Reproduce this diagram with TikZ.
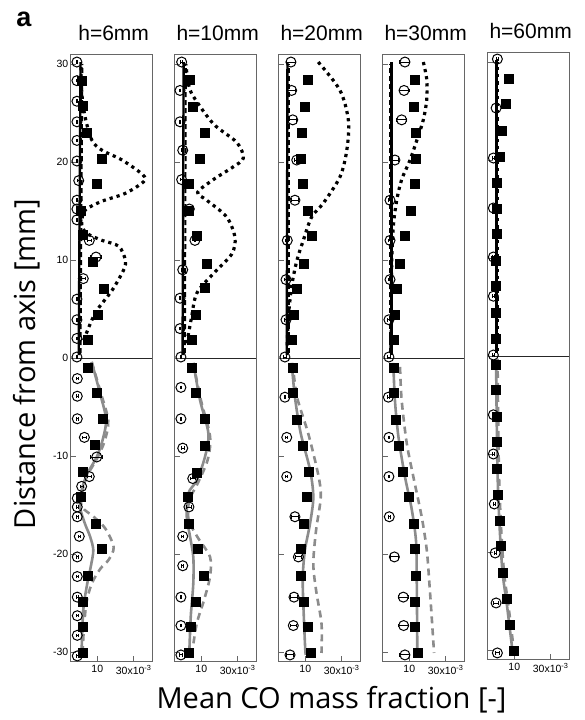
\documentclass[tikz,border=0pt]{standalone}
\usepackage{fontspec}
\setmainfont{Liberation Sans}
\newfontfamily\axisfont{Open Sans}
\usetikzlibrary{arrows.meta}
\usetikzlibrary{positioning}

\tikzset{
	panelbox/.style={draw=black!60, line width=0.8pt},
	zeroline/.style={draw=black!85, line width=0.6pt},
	simsolid/.style={black, line width=2.4pt},
	simdash/.style={black, line width=2pt, dash pattern=on 5pt off 3pt},
	simdot/.style={black, line width=3.2pt, dash pattern=on 3.2pt off 4pt},
	rssolid/.style={black!45, line width=2.6pt},
	rsdash/.style={black!45, line width=2.6pt, dash pattern=on 7pt off 5pt},
	expbox/.style={fill=black},
	expcirc/.style={draw=black, line width=1pt},
	errbar/.style={black, line width=0.9pt, arrows={Bar[width=3.5pt]-Bar[width=3.5pt]}},
	ticklab/.style={font=\fontsize{10.5}{12}\selectfont, inner sep=1.5pt},
	title/.style={font=\fontsize{21}{24}\selectfont, inner sep=0pt},
	axislabel/.style={font=\axisfont\fontsize{29}{32}\selectfont, inner sep=0pt}
}

\begin{document}
\begin{tikzpicture}[x=1pt, y=1pt]
	\newcommand\sx{1.82pt}
	\newcommand\sy{9.8pt}
	\useasboundingbox (0,0) rectangle (585,720);

	% frames, ticks and titles
	\foreach \i/\xo/\yo/\h in {1/79.1/362/6, 2/183.1/362/10, 3/287.1/362/20, 4/391.1/362/30, 5/496.1/364/60}{
		\begin{scope}[shift={(\xo pt,\yo pt)}, x=\sx, y=\sy]
			\draw[panelbox] (-5,-31) rectangle (40,31);
			\draw[zeroline] (-5,0) -- (40,0);
			\foreach \t in {-30,-20,...,30} \draw[panelbox] (-5,\t) -- ++(6pt,0);
			\foreach \t in {10,30} \draw[panelbox] (\t,-31) -- ++(0,6pt);
			\node[ticklab, anchor=north, yshift=-2pt] (xten\i) at (10,-31) {10};
			\node[ticklab, anchor=north, yshift=-2pt] (xthirty\i) at (30,-31) {30x10\textsuperscript{-3}};
			\node[title, anchor=base, yshift=14pt] (title\i) at (19,31) {h=\h mm};
		\end{scope}
	}
	\begin{scope}[shift={(79.1pt,362pt)}, x=\sx, y=\sy]
		\foreach \t in {-30,-20,...,30} \node[ticklab, anchor=east] (ylab\t) at (-5,\t) {\t};
	\end{scope}

	\node[font=\bfseries\fontsize{27}{30}\selectfont, inner sep=0pt] (panela) at (24,701) {a};
	\node[axislabel, rotate=90, anchor=base] (ylabel) at (35,356) {Distance from axis [mm]};
	\node[axislabel, anchor=base] (xlabel) at (331.5,11.7) {Mean CO mass fraction [-]};

	% h=6mm
	\begin{scope}[shift={(79.1pt,362pt)}, x=\sx, y=\sy]
		\draw[simdot] plot[smooth] coordinates {(2.5,1.8) (8.9,4.6) (18.1,6.9) (24.5,9.0) (25.4,10.0) (21.8,11.4) (12.6,12.0) (5.3,12.6) (2,13.2) (1.5,14) (3.4,15.1) (12.6,16.0) (25.4,16.8) (35.5,18.0) (35,18.7) (23.6,20.2) (12.6,21.2) (7.1,22.2) (3.4,24.5) (1.5,27) (1.0,30)};
		\draw[simdash] (0.8,0.5) -- (1.8,30);
		\draw[simsolid] (-0.2,0.3) -- (0.8,30.2);
		\draw[rsdash] plot[smooth] coordinates {(6.9,-0.4) (12,-3.6) (16,-6.4) (14,-8.5) (9.7,-10.3) (4.5,-12) (1.5,-13.8) (1.6,-15.2) (8,-16.2) (14.4,-17.4) (19.0,-19.3) (16.2,-20.6) (11.7,-21.5) (7,-23) (4,-25) (2.5,-28) (2,-30)};
		\draw[rssolid] plot[smooth] coordinates {(6.9,-0.4) (11.5,-3.6) (14.8,-6.2) (13.3,-8.1) (9.7,-10.1) (4.5,-11.8) (1.4,-13.5) (0.5,-15.2) (3.2,-16.9) (6.0,-18.2) (7.8,-19.6) (6.4,-21.3) (4.5,-23.0) (2.3,-25.7) (1.4,-29.8)};
		\foreach \x/\y in {1.4/28.3, 2.3/25.7, 4.5/23.0, 12.4/20.3, 10.0/17.8, 1.0/15.0, 2.0/12.6, 7.8/9.8, 13.7/7.0, 10.2/4.4, 5.1/1.8,
			5.1/-1.0, 9.7/-3.6, 13.3/-6.2, 8.7/-8.9, 2.3/-11.6, 0.9/-14.2, 9.3/-16.9, 12.4/-19.5, 5.1/-22.2, 2.3/-24.9, 2.0/-27.5, 2.0/-30.1}
			\fill[expbox] (\x,\y) +(-5pt,-5pt) rectangle +(5pt,5pt);
		\foreach \x/\y/\e in {-1.2/30.2/0.7, -1.2/28.3/0.7, -1.2/26.2/0.7, -1.2/24.1/0.7, -1.2/22.2/0.7, -1.2/20.1/0.7, -0.2/18.1/0.7, -1.2/16.1/0.7, -1.2/15.2/0.7, -1.2/14.1/0.7, 5.6/12.0/1.5, 9.3/10.3/3.2, 2.3/8.1/1.2, -1.2/6.0/0.7, -1.2/3.9/0.7, -1.2/2.0/0.7, -1.2/0.1/0.7,
			-1.0/-2.1/0.7, -1.0/-3.9/0.7, -1.0/-6.2/0.7, 2.9/-8.1/1.5, 9.7/-10.1/3.5, 5.6/-12.1/1.5, 1.4/-13.1/1.0, -1.0/-14.3/0.7, -1.0/-15.2/0.7, -1.0/-16.2/0.7, 0.1/-18.2/0.7, -1.0/-20.3/0.7, -1.0/-22.3/0.7, -1.0/-24.4/0.7, -1.0/-26.3/0.7, -1.0/-28.3/0.7, -1.0/-30.4/0.7}
			{\draw[expcirc] (\x,\y) circle[radius=5pt]; \draw[errbar] (\x-\e,\y) -- (\x+\e,\y);}
	\end{scope}

	% h=10mm
	\begin{scope}[shift={(183.1pt,362pt)}, x=\sx, y=\sy]
		\draw[simdot] plot[smooth] coordinates {(2,1.5) (4.5,4) (7.5,6.6) (16.6,8.6) (26.7,10.6) (28.5,12.3) (23.9,14.4) (13,16.1) (8,16.9) (16.6,18.2) (27.5,19.5) (33.1,20.4) (29.5,22.0) (16.6,23.9) (5.6,26.7) (2.9,28.0) (1.5,30)};
		\draw[simdash] (1,0.5) -- (1.5,30);
		\draw[simsolid] (-0.3,0.3) -- (0.3,30.2);
		\draw[rsdash] plot[smooth] coordinates {(5.6,-0.5) (9.8,-4.3) (14.8,-8.0) (13.5,-10.4) (8,-12.8) (3.4,-14.5) (3,-16.5) (8,-18.3) (14.8,-20.3) (14.8,-22.3) (11.5,-24.7) (7.5,-27.1) (5,-30)};
		\draw[rssolid] plot[smooth] coordinates {(5.6,-0.5) (9.3,-4.3) (13.9,-7.7) (12.0,-10.1) (7.5,-12.5) (2.9,-13.8) (2.0,-16.2) (3.8,-18.2) (5.6,-20.3) (5.6,-23.0) (4.2,-26.4) (3.4,-30.1)};
		\foreach \x/\y in {3.8/28.4, 5.6/25.6, 12.0/23.0, 9.3/20.3, 3.4/17.8, 3.4/15.0, 7.9/12.4, 13.0/9.6, 12.0/7.1, 7.1/4.4, 4.7/1.8,
			4.7/-1.0, 7.1/-3.6, 12.0/-6.2, 12.3/-9.0, 7.5/-11.7, 2.9/-14.2, 3.2/-16.9, 8.4/-19.5, 11.5/-22.2, 7.1/-24.9, 4.2/-27.4, 3.4/-30.1}
			\fill[expbox] (\x,\y) +(-5pt,-5pt) rectangle +(5pt,5pt);
		\foreach \x/\y/\e in {-0.8/30.2/0.7, -1.7/27.3/0.7, -1.7/24.1/0.7, -0.2/21.2/0.7, -0.8/18.2/0.7, 3.4/15.2/0.7, 6.5/12.0/0.7, -0.2/9.0/0.7, -1.7/6.1/0.7, -1.7/3.0/0.7, -1.2/0.1/0.7,
			-1.2/-3.0/0.7, -1.2/-6.2/0.7, -0.2/-9.2/1.0, 5.3/-12.3/1.5, 3.2/-15.2/1.5, -0.2/-18.2/0.7, -0.2/-21.2/0.7, -1.2/-24.4/0.7, -1.2/-27.3/0.7, -1.2/-30.3/1.0}
			{\draw[expcirc] (\x,\y) circle[radius=5pt]; \draw[errbar] (\x-\e,\y) -- (\x+\e,\y);}
	\end{scope}

	% h=20mm
	\begin{scope}[shift={(287.1pt,362pt)}, x=\sx, y=\sy]
		\draw[simdot] plot[smooth] coordinates {(17.1,30.2) (29.1,27.3) (33.7,24.2) (32.8,21.2) (29.1,18.5) (19.9,15.8) (13.5,14.4) (8.9,12.0) (5.3,9.9) (2.5,7.3) (0.7,4.2) (0,1.2)};
		\draw[simdash] (0.8,0.5) -- (0.8,30);
		\draw[simsolid] (-0.2,0.3) -- (0.2,30.2);
		\draw[rsdash] plot[smooth] coordinates {(3,-0.5) (5.5,-4) (11.6,-7.7) (17.1,-11.9) (18.5,-14.2) (15.9,-17.6) (14.4,-21.0) (16.0,-23.8) (18.9,-27.1) (18.9,-30.1)};
		\draw[rssolid] plot[smooth] coordinates {(2.5,-0.5) (4.3,-4.0) (7.5,-7.7) (12.6,-11.4) (14.4,-14.2) (12.6,-16.9) (9.8,-19.6) (8.6,-22.3) (8.9,-25.0) (9.8,-29.1) (10.2,-30.3)};
		\foreach \x/\y in {11.6/28.4, 9.8/25.6, 8.0/23.0, 7.5/20.3, 8.9/17.8, 11.6/15.0, 13.5/12.4, 9.5/9.6, 5.6/7.0, 3.8/4.4, 2.5/1.8,
			3.1/-1.0, 3.4/-3.6, 5.6/-6.3, 8.9/-9.0, 12.2/-11.6, 11.1/-14.2, 9.3/-16.9, 7.6/-19.5, 7.6/-22.2, 9.3/-24.9, 11.6/-27.5, 13.0/-30.1}
			\fill[expbox] (\x,\y) +(-5pt,-5pt) rectangle +(5pt,5pt);
		\foreach \x/\y/\e in {2.1/30.2/2.5, 2.5/27.3/2.5, 3.1/24.3/2.5, 5.3/20.2/1.5, 4.3/16.1/2.0, 0.1/12.0/1.0, -0.6/8.0/1.0, -0.6/3.9/1.0, -1.2/0.1/1.0,
			-1.2/-4.0/0.7, -0.2/-8.1/0.7, -0.2/-12.1/0.7, 4.3/-16.2/2.0, 6.2/-20.3/2.0, 3.8/-24.4/2.0, 3.4/-27.3/2.0, 1.6/-30.3/2.0}
			{\draw[expcirc] (\x,\y) circle[radius=5pt]; \draw[errbar] (\x-\e,\y) -- (\x+\e,\y);}
	\end{scope}

	% h=30mm
	\begin{scope}[shift={(391.1pt,362pt)}, x=\sx, y=\sy]
		\draw[simdot] plot[smooth] coordinates {(17.7,30.2) (19.6,28.4) (19.6,26.4) (17.7,24.3) (14.1,22.2) (10.4,20.2) (5.8,18.2) (3.1,16.1) (1.2,13.4) (0.3,9.3) (0,2.5) (0,0.5)};
		\draw[simdash] (-0.6,0.5) -- (-0.6,30);
		\draw[simsolid] (0.3,0.3) -- (0.3,30.2);
		\draw[rsdash] plot[smooth] coordinates {(4.9,-0.9) (5.8,-4.3) (8.6,-8.7) (12.2,-12.1) (16.8,-16.2) (19.6,-19.6) (21.0,-22.9) (22.3,-26.4) (23.6,-30.1)};
		\draw[rssolid] plot[smooth] coordinates {(1.2,-0.5) (2.1,-4.3) (4.0,-8.0) (7.6,-12.1) (11.3,-15.4) (13.7,-18.7) (14.1,-22.7) (14.4,-30.1)};
		\foreach \x/\y in {13.1/28.4, 12.8/25.6, 13.7/23.0, 13.7/20.3, 13.1/17.8, 10.8/15.0, 7.6/12.4, 4.9/9.6, 3.1/7.0, 2.1/4.4, 1.6/1.8,
			1.6/-1.0, 1.6/-3.6, 2.5/-6.3, 4.5/-9.0, 6.7/-11.6, 10.0/-14.2, 12.6/-16.9, 13.3/-19.5, 13.7/-22.2, 13.3/-24.9, 13.3/-27.5, 14.9/-30.1}
			\fill[expbox] (\x,\y) +(-5pt,-5pt) rectangle +(5pt,5pt);
		\foreach \x/\y/\e in {7.6/30.2/3.0, 7.1/27.3/3.0, 5.8/24.3/3.0, 2.1/20.2/2.0, -0.6/16.1/1.0, -0.6/12.0/1.0, -0.6/8.0/1.0, -1.2/3.9/1.0, -1.2/0.1/1.0,
			-1.5/-4.0/0.7, -1.2/-8.1/0.7, -1.2/-12.1/0.7, -1.0/-16.2/0.7, 1.8/-20.3/2.5, 6.7/-24.4/3.0, 6.9/-27.3/3.0, 7.6/-30.3/3.0}
			{\draw[expcirc] (\x,\y) circle[radius=5pt]; \draw[errbar] (\x-\e,\y) -- (\x+\e,\y);}
	\end{scope}

	% h=60mm
	\begin{scope}[shift={(496.1pt,364pt)}, x=\sx, y=\sy]
		\draw[simdot] (0.9,0.5) -- (0.9,30);
		\draw[simdash] (-0.3,0.5) -- (-0.3,30);
		\draw[simsolid] (0.3,0.3) -- (0.3,30.2);
		\draw[rsdash] plot[smooth] coordinates {(0.8,-0.3) (1.1,-6) (1.6,-12) (2.6,-17) (4.3,-22) (6.8,-25.5) (9.8,-30.1)};
		\draw[rssolid] plot[smooth] coordinates {(0,-0.3) (0.3,-6) (0.8,-12) (1.8,-17) (3.5,-22) (6,-25.5) (9,-30.1)};
		\foreach \x/\y in {7.3/28.3, 5.4/25.7, 3.1/23.0, 2.1/20.3, 0.7/17.7, 0.3/15.0, 0.3/12.4, 0/9.7, 0/7.1, 0/4.4, 0/1.7,
			0/-0.9, 0/-3.5, 0.3/-6.2, 0.3/-8.8, 0.7/-11.5, 1.2/-14.2, 2.0/-16.8, 2.5/-19.4, 3.9/-22.1, 5.8/-24.8, 7.6/-27.4, 9.8/-30.1}
			\fill[expbox] (\x,\y) +(-5pt,-5pt) rectangle +(5pt,5pt);
		\foreach \x/\y/\e in {0.7/30.3/1.0, 0/25.3/0.7, -1.5/20.2/0.7, -1.5/15.1/0.7, -1.5/10.1/0.7, -1.5/6.1/0.7, -1.5/0.1/0.7,
			-1.5/-6.0/0.7, -1.5/-10.0/0.7, -1.0/-15.1/0.7, -0.5/-20.1/0.7, 0/-25.2/1.5, 0.7/-30.3/1.5}
			{\draw[expcirc] (\x,\y) circle[radius=5pt]; \draw[errbar] (\x-\e,\y) -- (\x+\e,\y);}
	\end{scope}
\end{tikzpicture}
\end{document}
